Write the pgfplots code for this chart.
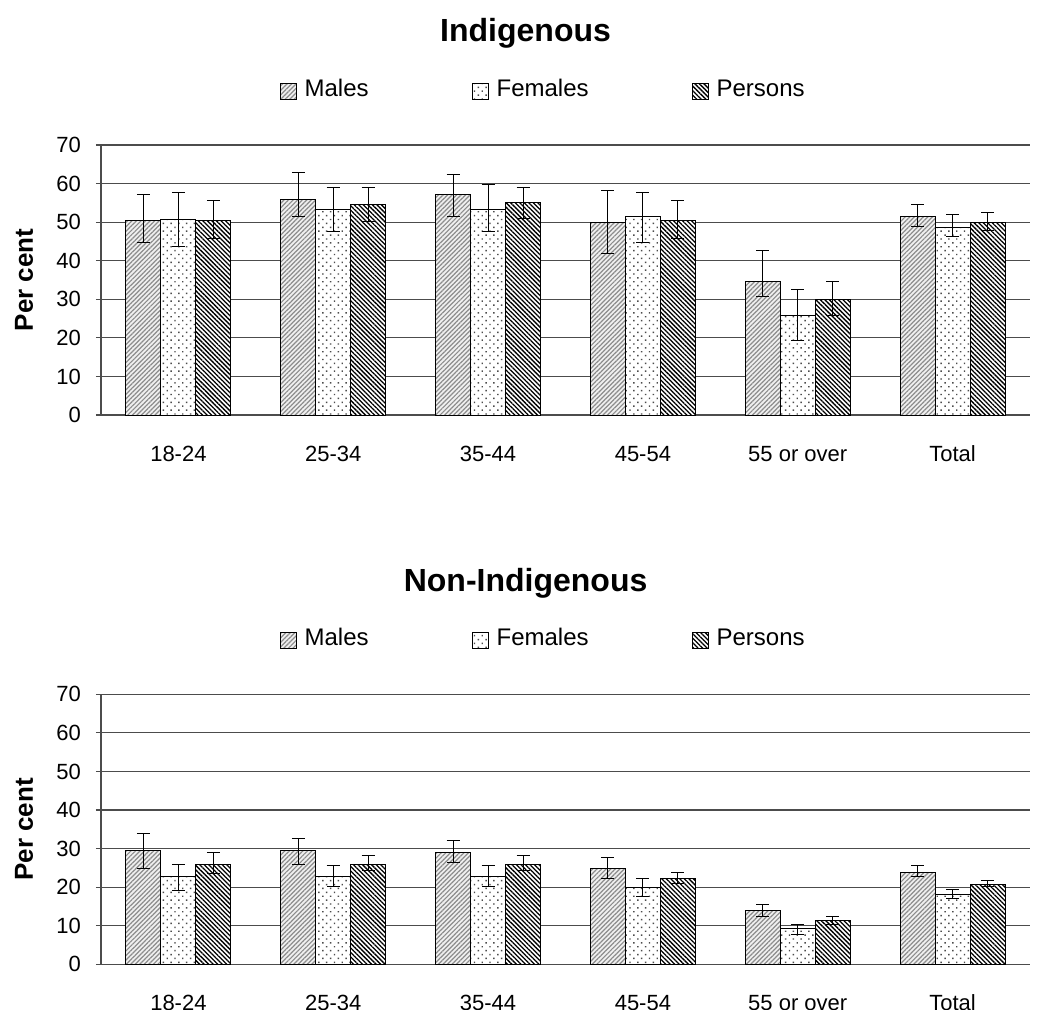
\documentclass[border=0pt]{standalone}
\usepackage{fontspec}
\setmainfont{Liberation Sans}
\usepackage{pgfplots}
\pgfplotsset{compat=1.18}
\usepackage{pgfplotstable}
\usetikzlibrary{patterns.meta}

% columns: value, plus error, minus error
\pgfplotstableread{
x M Mp Mm F Fp Fm P Pp Pm
0 50.4 6.7 5.8 50.7 7.0 7.1 50.4 5.1 4.6
1 56.0 6.8 4.5 53.4 5.7 5.7 54.5 4.6 4.4
2 57.1 5.2 5.6 53.4 6.4 5.7 55.0 4.1 4.0
3 49.8 8.3 7.8 51.5 6.2 6.9 50.4 5.1 4.6
4 34.6 8.0 4.0 25.8 6.8 6.6 30.0 4.7 4.2
5 51.5 3.0 2.7 48.6 3.3 2.4 49.8 2.6 1.9
}\indig

\pgfplotstableread{
x M Mp Mm F Fp Fm P Pp Pm
0 29.6 4.2 4.7 22.8 3.2 3.6 25.9 3.2 2.3
1 29.6 3.1 3.7 22.8 2.7 2.6 25.9 2.2 1.5
2 29.0 3.1 2.6 22.8 2.7 2.6 25.9 2.2 1.5
3 24.9 2.7 2.6 19.8 2.5 2.2 22.3 1.6 1.4
4 14.0 1.6 1.6 9.3 1.1 1.5 11.4 1.0 1.0
5 23.9 1.6 1.1 18.1 1.2 1.0 20.7 1.1 0.6
}\nonindig

\pgfplotsset{
  malesbar/.style={draw=black, line width=0.5pt, preaction={fill=gray!12},
    pattern={Lines[angle=45,distance=1.6pt,line width=0.6pt]}, pattern color=black!45},
  femalesbar/.style={draw=black, line width=0.5pt, preaction={fill=white},
    pattern={Dots[angle=45,distance=2.75pt,radius=0.5pt]}, pattern color=black!70},
  personsbar/.style={draw=black, line width=0.5pt, preaction={fill=white},
    pattern={Lines[angle=-45,distance=1.6pt,line width=0.65pt]}, pattern color=black},
  eb/.style={error bars/.cd, y dir=both, y explicit, error mark=-,
    error bar style={black, line width=0.5pt},
    error mark options={black, line width=0.5pt, mark size=3.25pt, rotate=90}},
  panel/.style={
    scale only axis, width=464.5pt, height=135pt,
    xmin=-0.5, xmax=5.5, ymin=0, ymax=70,
    ybar=0pt, bar width=0.226,
    axis x line*=bottom, axis y line*=left,
    axis line style={black!70, line width=0.6pt, -},
    ymajorgrids, major grid style={black!70, line width=0.6pt},
    ytick={0,10,...,70},
    ytick style={black!70, line width=0.6pt},
    tick align=outside, major tick length=2.5pt,
    xtick={0,...,5},
    xticklabels={18-24,25-34,35-44,45-54,55 or over,Total},
    xtick style={draw=none},
    extra x ticks={-0.5,0.5,1.5,2.5,3.5,4.5,5.5},
    extra x tick labels={},
    extra x tick style={grid=none, major tick length=4pt, tick align=outside,
      tick style={draw=black!70, line width=0.6pt}},
    tick label style={font=\fontsize{11}{13}\selectfont},
    /pgf/number format/assume math mode=true,
    xticklabel style={anchor=base, yshift=-20.5pt},
    yticklabel style={xshift=-4pt},
    ylabel={Per cent},
    ylabel style={font=\bfseries\fontsize{13}{15}\selectfont,
      at={(axis description cs:-0.0829,0.5)}, anchor=center},
    title style={font=\bfseries\fontsize{16}{19}\selectfont,
      at={(0.457,1)}, anchor=base, yshift=45.6pt},
    legend style={draw=none, at={(0.477,1)}, anchor=center, yshift=27pt,
      font=\fontsize{12}{14}\selectfont,
      nodes={text height=0.72em, text depth=0.2em},
      /tikz/every odd column/.append style={column sep=2pt},
      /tikz/every even column/.append style={column sep=49.5pt}},
    legend columns=3,
    legend image code/.code={\draw[##1] (0pt,-4pt) rectangle (8pt,4pt);},
  }
}

\begin{document}
\begin{tikzpicture}
\path[use as bounding box] (0pt,0pt) rectangle (519pt,504.5pt);

\begin{axis}[panel, at={(50.5pt,297pt)}, anchor=south west, title={Indigenous}]
\addplot[malesbar, eb] table[x=x, y=M, y error plus=Mp, y error minus=Mm] {\indig};
\addplot[femalesbar, eb] table[x=x, y=F, y error plus=Fp, y error minus=Fm] {\indig};
\addplot[personsbar, eb] table[x=x, y=P, y error plus=Pp, y error minus=Pm] {\indig};
\legend{Males, Females, Persons}
\end{axis}

\begin{axis}[panel, at={(50.5pt,22.35pt)}, anchor=south west, title={Non-Indigenous}]
\addplot[malesbar, eb] table[x=x, y=M, y error plus=Mp, y error minus=Mm] {\nonindig};
\addplot[femalesbar, eb] table[x=x, y=F, y error plus=Fp, y error minus=Fm] {\nonindig};
\addplot[personsbar, eb] table[x=x, y=P, y error plus=Pp, y error minus=Pm] {\nonindig};
\legend{Males, Females, Persons}
\end{axis}
\end{tikzpicture}
\end{document}
